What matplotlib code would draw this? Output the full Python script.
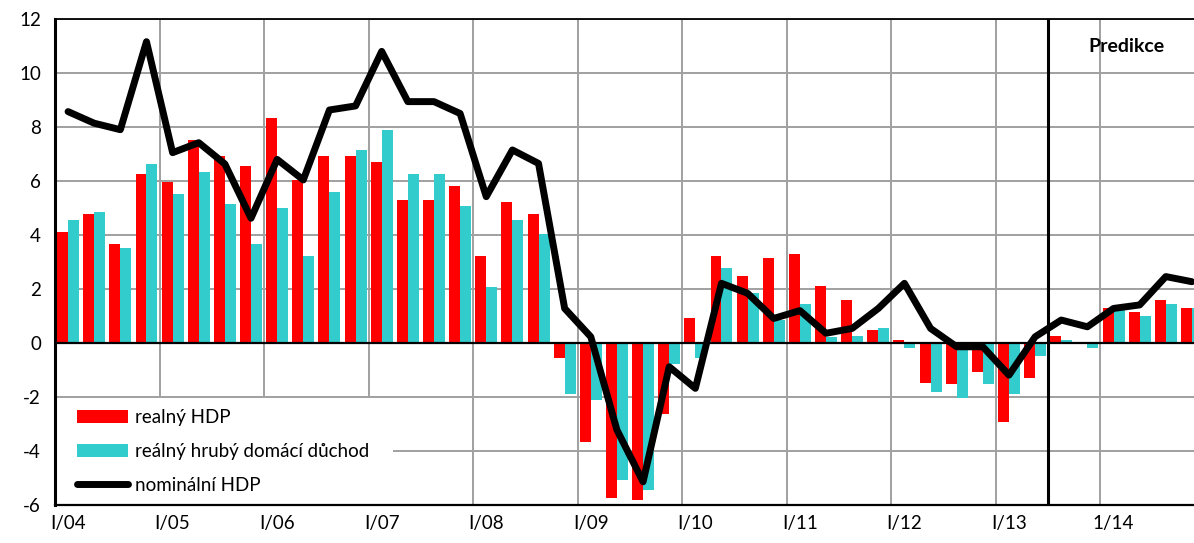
import numpy as np
import matplotlib.pyplot as plt
from matplotlib.patches import Rectangle
from matplotlib.lines import Line2D
from matplotlib.patches import Patch

plt.rcParams['font.family'] = ['Lato', 'DejaVu Sans']

# quarterly data I/04 .. IV/14 (44 quarters)
real_gdp = [4.1, 4.77, 3.65, 6.26, 5.95, 7.52, 6.93, 6.56, 8.33, 6.04, 6.93, 6.93,
            6.69, 5.3, 5.3, 5.81, 3.22, 5.22, 4.77, -0.57, -3.68, -5.75, -5.81, -2.63,
            0.91, 3.22, 2.48, 3.14, 3.3, 2.11, 1.59, 0.48, 0.11, -1.47, -1.53, -1.09,
            -2.94, -1.31, 0.25, -0.05, 1.28, 1.14, 1.58, 1.28]
real_gdi = [4.56, 4.84, 3.51, 6.62, 5.51, 6.32, 5.14, 3.65, 4.99, 3.22, 5.58, 7.14,
            7.88, 6.26, 6.26, 5.07, 2.09, 4.56, 4.04, -1.9, -2.11, -5.07, -5.44, -0.79,
            -0.57, 2.77, 1.85, 0.85, 1.44, 0.23, 0.26, 0.54, -0.2, -1.83, -2.05, -1.53,
            -1.9, -0.49, 0.1, -0.2, 1.22, 0.99, 1.43, 1.3]
nominal_gdp = [8.57, 8.14, 7.9, 11.16, 7.05, 7.42, 6.63, 4.62, 6.8, 6.04, 8.63, 8.78,
               10.8, 8.94, 8.94, 8.5, 5.42, 7.15, 6.65, 1.28, 0.23, -3.22, -5.14, -0.88,
               -1.68, 2.21, 1.84, 0.91, 1.2, 0.36, 0.54, 1.28, 2.21, 0.54, -0.14, -0.14,
               -1.19, 0.23, 0.85, 0.6, 1.28, 1.41, 2.46, 2.27]
year_labels = ['I/04', 'I/05', 'I/06', 'I/07', 'I/08', 'I/09', 'I/10', 'I/11',
               'I/12', 'I/13', '1/14']
pred_start = 38

RED = '#ff0000'
CYAN = '#33cccc'
GRID = '#a0a0a0'
FS = 13.5

fig = plt.figure(figsize=(11.94, 5.43), dpi=100)
ax = fig.add_axes([55/1194, 1-505/543, 1150/1194, 486/543])

x = np.arange(len(real_gdp))
w = 0.42
ax.bar(x - w/2, real_gdp, w, color=RED, zorder=2)
ax.bar(x + w/2, real_gdi, w, color=CYAN, zorder=2)
ax.plot(x, nominal_gdp, color='black', lw=5, solid_joinstyle='round',
        solid_capstyle='round', zorder=4)

ax.set_xlim(-0.5, len(x) - 0.5)
ax.set_ylim(-6, 12)
ax.set_yticks(range(-6, 13, 2))
ax.set_yticklabels([str(v) for v in range(-6, 13, 2)])
ax.set_xticks(np.arange(0, len(x), 4))
ax.set_xticklabels(year_labels)
ax.tick_params(length=0, labelsize=FS)
ax.tick_params(axis='y', pad=10)
ax.tick_params(axis='x', pad=7)

for yv in range(-6, 13, 2):
    if yv != 0:
        ax.axhline(yv, color=GRID, lw=1.4, zorder=0)
for xv in np.arange(4, len(x), 4) - 0.5:
    ax.axvline(xv, color=GRID, lw=1.4, zorder=0)
ax.axhline(0, color='black', lw=1.6, zorder=3)
ax.axvline(pred_start - 0.5, color='black', lw=2.2, zorder=3)

ax.spines['left'].set_linewidth(2.2)
ax.spines['top'].set_linewidth(1.3)
ax.spines['bottom'].set_linewidth(1.6)
ax.spines['right'].set_visible(False)
for s in ax.spines.values():
    s.set_zorder(8)

ax.text(40.5, 11.0, 'Predikce', fontsize=14, fontweight='bold', ha='center', va='center')

ax.add_patch(Rectangle((0, 0), 338/1150, 107/486, transform=ax.transAxes,
                       facecolor='white', edgecolor='none', zorder=5))
handles = [Patch(facecolor=RED, edgecolor='none'),
           Patch(facecolor=CYAN, edgecolor='none'),
           Line2D([], [], color='black', lw=5, solid_capstyle='round')]
labels = ['realný HDP', 'reálný hrubý domácí důchod', 'nominální HDP']
leg = ax.legend(handles, labels, loc='upper left', bbox_to_anchor=(22/1150, 96/486),
                frameon=False, fontsize=FS, borderpad=0, borderaxespad=0,
                handlelength=2.7, handleheight=0.7, handletextpad=0.4, labelspacing=0.9)
leg.set_zorder(6)

fig.savefig('out.png', dpi=100)
